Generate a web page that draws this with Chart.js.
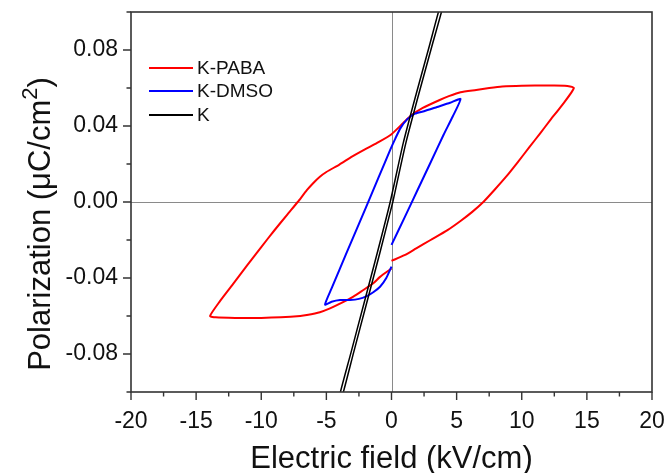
<!DOCTYPE html>
<html>
<head>
<meta charset="utf-8">
<script src="https://cdn.jsdelivr.net/npm/chart.js@4/dist/chart.umd.min.js"></script>
<style>
html,body{margin:0;padding:0;background:#fff;}
#wrap{width:667px;height:473px;position:relative;}
</style>
</head>
<body>
<div id="wrap"><canvas id="c" width="667" height="473"></canvas></div>
<script>
// ---- data ----
const seriesNames = ['K-PABA', 'K-DMSO', 'K'];

const pabaE = [0, 1.0, 1.9, 3.0, 4.3, 5.3, 6.2, 7.05, 7.9, 8.8, 9.7, 10.6, 11.4, 12.2, 13.1, 14.0,
  13.3, 12.0, 10.0, 8.5, 7.5, 6.5, 5.3, 4.4, 3.7, 2.4, 1.5, 0.9, 0, -1.0, -1.9, -3.0, -4.0, -5.0, -5.5, -6.0, -6.5, -7.2, -8.0, -9.0, -10.0, -11.1, -12.2, -13.17, -13.93,
  -13.5, -12.0, -10.0, -8.5, -7.0, -6.5, -5.5, -4.72, -3.8, -2.93, -2.16, -1.4, -0.88, 0];
const pabaP = [-0.031, -0.028, -0.0244, -0.020, -0.0148, -0.0100, -0.0052, 0.0, 0.0063, 0.0133, 0.021, 0.029, 0.036, 0.0432, 0.051, 0.060,
  0.0612, 0.0613, 0.0612, 0.0608, 0.0600, 0.0590, 0.0578, 0.0557, 0.0537, 0.0495, 0.0455, 0.0416, 0.0357, 0.0315, 0.0282, 0.0240, 0.0197, 0.0158, 0.0133, 0.0100, 0.0062, 0.0, -0.0066, -0.0150, -0.0237, -0.0335, -0.0435, -0.0522, -0.060,
  -0.0607, -0.0610, -0.0610, -0.0607, -0.0600, -0.0595, -0.0580, -0.0560, -0.0530, -0.0498, -0.0463, -0.0428, -0.0394, -0.035];

const dmsoE = [0, 1.0, 2.0, 3.0, 4.0, 4.7, 5.3,
  4.5, 3.5, 2.5, 1.8, 1.2, 0.7, 0.3, -0.1, -1.0, -2.0, -3.0, -4.0, -4.6, -5.1,
  -4.6, -3.95, -3.19, -2.5, -1.9, -1.4, -0.88, -0.4, 0];
const dmsoP = [-0.0226, -0.0082, 0.0063, 0.0208, 0.0354, 0.0450, 0.0542,
  0.0522, 0.0500, 0.0478, 0.0465, 0.0435, 0.0390, 0.0335, 0.0274, 0.0128, -0.0035, -0.0195, -0.0357, -0.0455, -0.0540,
  -0.0525, -0.0516, -0.0516, -0.0510, -0.0495, -0.0475, -0.0446, -0.0400, -0.034];

const kE = [0.1, 1.1, 2.1, 3.1, 4.1, 3.9, 2.9, 1.9, 0.9, -0.1, -1.1, -2.1, -3.1, -4.1, -3.9, -2.9, -1.9, -0.9, 0.1];
const kP = [0.0, 0.031, 0.057, 0.082, 0.107, 0.107, 0.082, 0.057, 0.031, 0.0, -0.027, -0.053, -0.079, -0.105, -0.105, -0.079, -0.053, -0.027, 0.0];

const xTicks = [-20, -15, -10, -5, 0, 5, 10, 15, 20];
const yTicks = [-0.08, -0.04, 0.00, 0.04, 0.08];
const xTitle = 'Electric field (kV/cm)';
const yTitle = ['Polarization (\u03BCC/cm', '2', ')'];

// ---- helpers ----
const pts = (xs, ys) => xs.map((x, i) => ({x: x, y: ys[i]}));
const FONT = '"Liberation Sans", Arial, sans-serif';

const framePlugin = {
  id: 'frame',
  beforeDatasetsDraw(chart) {
    const {ctx, chartArea: a, scales: {x, y}} = chart;
    ctx.save();
    ctx.strokeStyle = '#8a8a8a';
    ctx.lineWidth = 1;
    const x0 = Math.round(x.getPixelForValue(0)) + 0.5;
    const y0 = Math.round(y.getPixelForValue(0)) + 0.5;
    ctx.beginPath();
    ctx.moveTo(x0, a.top); ctx.lineTo(x0, a.bottom);
    ctx.moveTo(a.left, y0); ctx.lineTo(a.right, y0);
    ctx.stroke();
    ctx.restore();
  },
  afterDatasetsDraw(chart) {
    const {ctx, chartArea: a, scales: {x, y}} = chart;
    ctx.save();
    // legend
    const ds = chart.data.datasets;
    const rows = [68, 91, 115];
    ctx.font = '19px ' + FONT;
    ctx.textBaseline = 'middle';
    ctx.textAlign = 'left';
    ds.forEach((d, i) => {
      ctx.strokeStyle = d.borderColor;
      ctx.lineWidth = 2;
      ctx.beginPath();
      ctx.moveTo(149, rows[i]); ctx.lineTo(193, rows[i]);
      ctx.stroke();
      ctx.fillStyle = '#111';
      ctx.fillText(d.label, 197, rows[i] + 1);
    });
    // frame
    ctx.strokeStyle = '#333';
    ctx.lineWidth = 1.6;
    ctx.strokeRect(a.left, a.top, a.right - a.left, a.bottom - a.top);
    // ticks
    ctx.lineWidth = 1.4;
    ctx.beginPath();
    for (let v = -20; v <= 20.001; v += 2.5) {
      const px = x.getPixelForValue(v);
      const major = Math.abs(v % 5) < 1e-6;
      ctx.moveTo(px, a.bottom); ctx.lineTo(px, a.bottom + (major ? 8 : 4.5));
    }
    for (let k = -5; k <= 5; k++) {
      const v = k * 0.02;
      const py = y.getPixelForValue(v);
      const major = (k % 2 === 0) && Math.abs(k) < 5;
      ctx.moveTo(a.left, py); ctx.lineTo(a.left - (major ? 8 : 4.5), py);
    }
    ctx.stroke();
    ctx.restore();
  },
  afterDraw(chart) {
    const {ctx, chartArea: a} = chart;
    ctx.save();
    ctx.fillStyle = '#111';
    // x title
    ctx.font = '31px ' + FONT;
    ctx.textAlign = 'center';
    ctx.textBaseline = 'alphabetic';
    ctx.fillText(xTitle, (a.left + a.right) / 2, 468);
    // y title, rotated with superscript
    ctx.translate(50, 224);
    ctx.rotate(-Math.PI / 2);
    const f1 = '31px ' + FONT, f2 = '22px ' + FONT;
    ctx.font = f1; const w1 = ctx.measureText(yTitle[0]).width;
    const w3 = ctx.measureText(yTitle[2]).width;
    ctx.font = f2; const w2 = ctx.measureText(yTitle[1]).width;
    let sx = -(w1 + w2 + w3) / 2;
    ctx.textAlign = 'left';
    ctx.font = f1; ctx.fillText(yTitle[0], sx, 0); sx += w1;
    ctx.font = f2; ctx.fillText(yTitle[1], sx, -13); sx += w2;
    ctx.font = f1; ctx.fillText(yTitle[2], sx, 0);
    ctx.restore();
  }
};

new Chart(document.getElementById('c'), {
  type: 'scatter',
  data: {
    datasets: [
      {label: seriesNames[0], data: pts(pabaE, pabaP), borderColor: '#ff0000', borderWidth: 2, order: 3},
      {label: seriesNames[1], data: pts(dmsoE, dmsoP), borderColor: '#0000ff', borderWidth: 2, order: 2},
      {label: seriesNames[2], data: pts(kE, kP), borderColor: '#000000', borderWidth: 1.5, order: 1}
    ]
  },
  options: {
    responsive: false,
    animation: false,
    showLine: true,
    elements: {point: {radius: 0, hoverRadius: 0}, line: {tension: 0.2, fill: false}},
    layout: {padding: {top: 12, right: 15, left: 0, bottom: 0}},
    plugins: {legend: {display: false}, tooltip: {enabled: false}},
    scales: {
      x: {
        type: 'linear', min: -20, max: 20,
        afterBuildTicks: s => { s.ticks = xTicks.map(v => ({value: v})); },
        afterFit: s => { s.height = 81; s.paddingLeft = 0; s.paddingRight = 0; },
        grid: {display: false, drawTicks: false},
        border: {display: false},
        ticks: {padding: 16, color: '#111', font: {size: 23, family: FONT}, maxRotation: 0,
                callback: v => String(v)}
      },
      y: {
        type: 'linear', min: -0.1, max: 0.1,
        afterBuildTicks: s => { s.ticks = yTicks.map(v => ({value: v})); },
        afterFit: s => { s.width = 131; s.paddingTop = 0; s.paddingBottom = 0; },
        grid: {display: false, drawTicks: false},
        border: {display: false},
        ticks: {padding: 13, color: '#111', font: {size: 23, family: FONT},
                callback: v => (Math.abs(v) < 1e-9 ? 0 : v).toFixed(2)}
      }
    }
  },
  plugins: [framePlugin]
});
</script>
</body>
</html>
